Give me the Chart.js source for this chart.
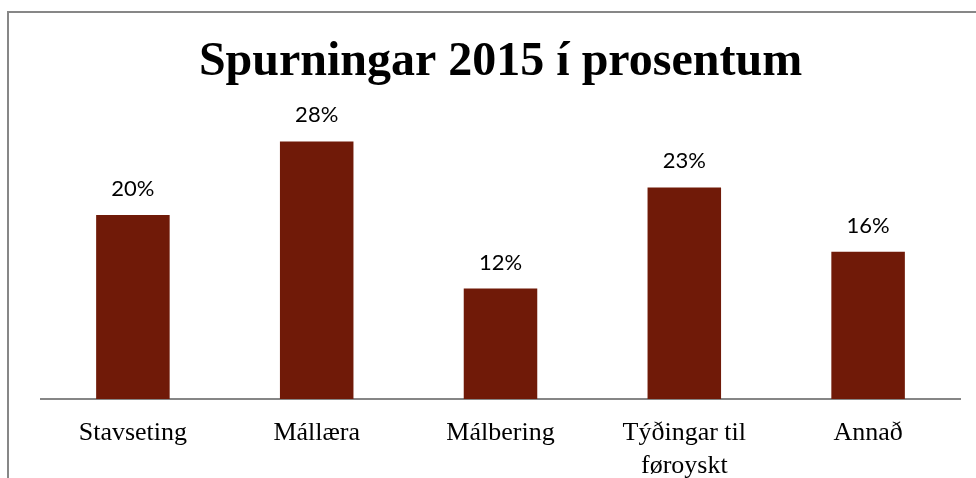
<!DOCTYPE html>
<html>
<head>
<meta charset="utf-8">
<script src="https://cdn.jsdelivr.net/npm/chart.js@4"></script>
<style>
  html, body { margin: 0; padding: 0; background: #fff; }
  #wrap { width: 976px; height: 478px; }
</style>
</head>
<body>
<div id="wrap"><canvas id="questionsChart" width="976" height="478"></canvas></div>
<script>
const categories = ['Stavseting', 'Mállæra', 'Málbering', ['Týðingar til', 'føroyskt'], 'Annað'];
const shares = [20, 28, 12, 23, 16];
const yMin = 0;
const yMax = 30;

// frame round the chart (cut off on the right and bottom in the original)
const framePlugin = {
  id: 'frame',
  beforeDraw(chart) {
    const ctx = chart.ctx;
    ctx.save();
    ctx.fillStyle = '#fff';
    ctx.fillRect(0, 0, chart.width, chart.height);
    ctx.strokeStyle = '#878787';
    ctx.lineWidth = 2;
    ctx.strokeRect(8, 12, chart.width + 20, chart.height + 20);
    ctx.restore();
  }
};

// percent labels above the bars
const valueLabels = {
  id: 'valueLabels',
  afterDatasetsDraw(chart) {
    const ctx = chart.ctx;
    const meta = chart.getDatasetMeta(0);
    ctx.save();
    ctx.font = '22px Lato';
    ctx.fillStyle = '#000';
    ctx.textAlign = 'center';
    ctx.textBaseline = 'alphabetic';
    meta.data.forEach((bar, i) => {
      ctx.fillText(shares[i] + '%', bar.x, bar.y - 19);
    });
    ctx.restore();
  }
};

new Chart(document.getElementById('questionsChart').getContext('2d'), {
  type: 'bar',
  data: {
    labels: categories,
    datasets: [{
      data: shares,
      backgroundColor: '#701a08',
      categoryPercentage: 1,
      barPercentage: 0.4
    }]
  },
  options: {
    responsive: false,
    animation: false,
    layout: { padding: { left: 41, right: 16, top: 0, bottom: 0 } },
    plugins: {
      legend: { display: false },
      tooltip: { enabled: false },
      title: {
        display: true,
        text: 'Spurningar 2015 í prosentum',
        color: '#000',
        font: { family: 'Liberation Serif', size: 48, weight: 'bold', lineHeight: 1.2 },
        padding: { top: 34, bottom: 31.4 }
      }
    },
    scales: {
      x: {
        grid: { display: false },
        border: { display: true, color: '#868686', width: 2 },
        ticks: {
          color: '#000',
          padding: 10,
          font: { family: 'Liberation Serif', size: 26, lineHeight: 1.25 },
          maxRotation: 0,
          autoSkip: false
        },
        afterFit(scale) { scale.height = 79; }
      },
      y: {
        display: false,
        min: yMin,
        max: yMax
      }
    }
  },
  plugins: [framePlugin, valueLabels]
});
</script>
</body>
</html>
